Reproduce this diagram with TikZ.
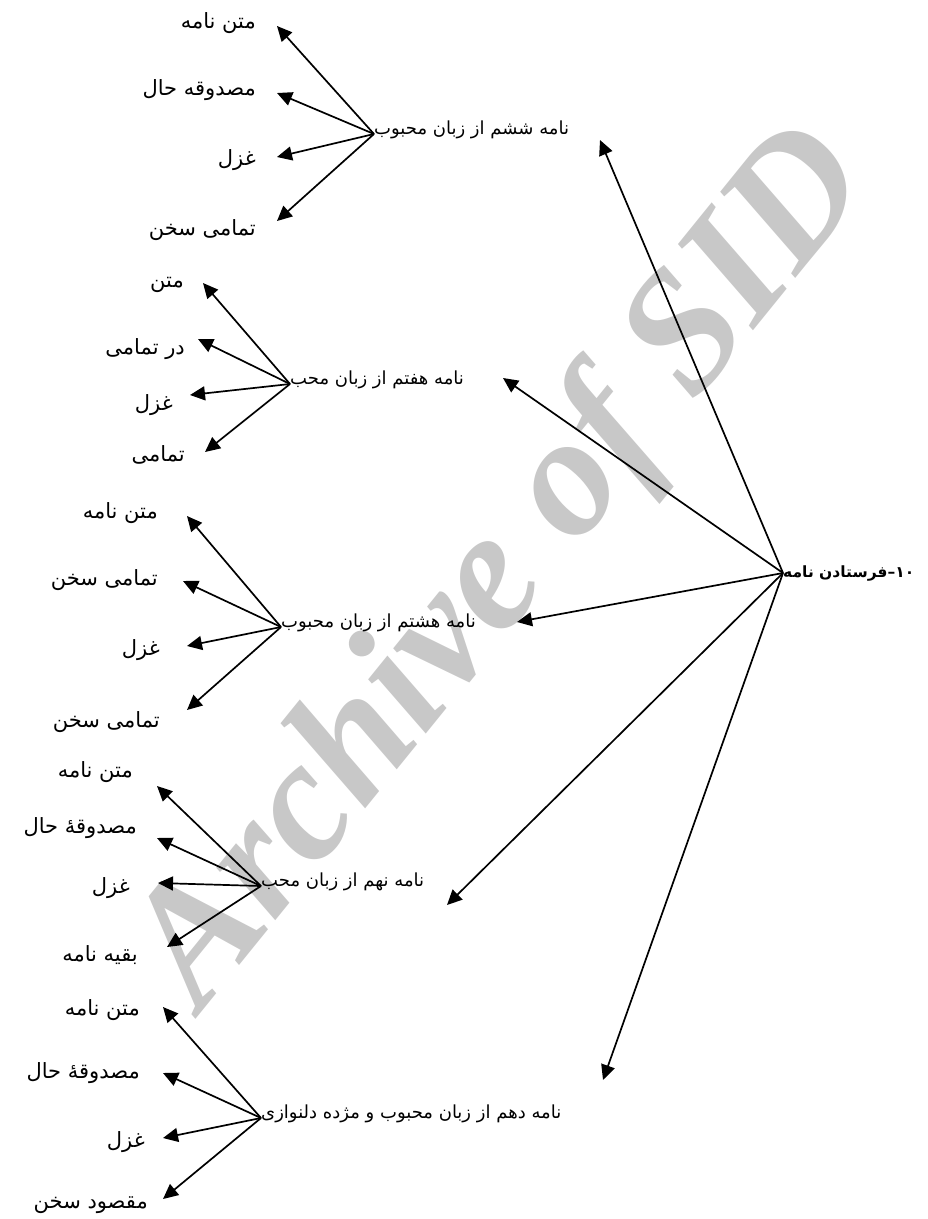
\documentclass[tikz,border=0pt]{standalone}
\usepackage{fontspec}
\usetikzlibrary{arrows.meta,calc}
\TeXXeTstate=1
\newfontfamily\arabicfont[Script=Arabic]{DejaVu Sans}
\newfontfamily\wmfont{Liberation Serif}
\definecolor{wm}{RGB}{200,200,200}
\newcommand{\rtltext}[1]{\beginR #1\endR}
\begin{document}
\begin{tikzpicture}[x=1pt,y=-1pt,
  arr/.style={line width=1.7pt,-{Triangle[length=15pt,width=14pt]}},
  leaf/.style={inner sep=0pt,font=\fontsize{21}{24}\arabicfont,anchor=east},
  mid/.style={inner sep=0pt,font=\fontsize{18}{20}\arabicfont,anchor=base west},
  rootn/.style={inner sep=0pt,font=\fontsize{15.5}{18}\arabicfont\bfseries,anchor=west}]
\useasboundingbox (0,0) rectangle (927,1219);
% watermark
\node[text=wm,font=\fontsize{172}{172}\wmfont\bfseries\itshape,rotate=51] (wmk) at (505,570) {Archive of SID};
% root
\node[rootn] (root) at (783,573) {\rtltext{۱۰–فرستادن نامه}};
% level 2
\node[mid] (m6) at (374,134) {\rtltext{نامه ششم از زبان محبوب}};
\node[mid] (m7) at (290,384) {\rtltext{نامه هفتم از زبان محب}};
\node[mid] (m8) at (281,627) {\rtltext{نامه هشتم از زبان محبوب}};
\node[mid] (m9) at (261,886) {\rtltext{نامه نهم از زبان محب}};
\node[mid] (m10) at (261,1118) {\rtltext{نامه دهم از زبان محبوب و مژده دلنوازی}};
\coordinate (t6) at (600,140);
\coordinate (t7) at (503,378);
\coordinate (t8) at (517,622);
\coordinate (t9) at (447,905);
\coordinate (t10) at (603,1080);
\foreach \t in {t6,t7,t8,t9,t10} \draw[arr] (root.west) -- (\t);
% group 6
\node[leaf] (a1) at (256,23) {\rtltext{متن نامه}};
\node[leaf] (a2) at (256,90) {\rtltext{مصدوقه حال}};
\node[leaf] (a3) at (256,160) {\rtltext{غزل}};
\node[leaf] (a4) at (256,230) {\rtltext{تمامی سخن}};
\draw[arr] (m6.base west) -- ($(a1.east)+(21,3)$);
\draw[arr] (m6.base west) -- ($(a2.east)+(21,3)$);
\draw[arr] (m6.base west) -- ($(a3.east)+(21,-3)$);
\draw[arr] (m6.base west) -- ($(a4.east)+(21,-9)$);
% group 7
\node[leaf] (b1) at (184,285) {\rtltext{متن}};
\node[leaf] (b2) at (185,349) {\rtltext{در تمامی}};
\node[leaf] (b3) at (173,405) {\rtltext{غزل}};
\node[leaf] (b4) at (185,455) {\rtltext{تمامی}};
\draw[arr] (m7.base west) -- ($(b1.east)+(19,-2)$);
\draw[arr] (m7.base west) -- ($(b2.east)+(13,-10)$);
\draw[arr] (m7.base west) -- ($(b3.east)+(17,-10)$);
\draw[arr] (m7.base west) -- ($(b4.east)+(20,-3)$);
% group 8
\node[leaf] (c1) at (158,513) {\rtltext{متن نامه}};
\node[leaf] (c2) at (158,580) {\rtltext{تمامی سخن}};
\node[leaf] (c3) at (160,650) {\rtltext{غزل}};
\node[leaf] (c4) at (160,722) {\rtltext{تمامی سخن}};
\draw[arr] (m8.base west) -- ($(c1.east)+(29,3)$);
\draw[arr] (m8.base west) -- ($(c2.east)+(25,1)$);
\draw[arr] (m8.base west) -- ($(c3.east)+(27,-4)$);
\draw[arr] (m8.base west) -- ($(c4.east)+(27,-12)$);
% group 9
\node[leaf] (d1) at (133,772) {\rtltext{متن نامه}};
\node[leaf] (d2) at (137,828) {\rtltext{مصدوقهٔ حال}};
\node[leaf] (d3) at (130,888) {\rtltext{غزل}};
\node[leaf] (d4) at (138,955) {\rtltext{بقیه نامه}};
\draw[arr] (m9.base west) -- ($(d1.east)+(24,14)$);
\draw[arr] (m9.base west) -- ($(d2.east)+(20,10)$);
\draw[arr] (m9.base west) -- ($(d3.east)+(28,-5)$);
\draw[arr] (m9.base west) -- ($(d4.east)+(29,-8)$);
% group 10
\node[leaf] (e1) at (140,1010) {\rtltext{متن نامه}};
\node[leaf] (e2) at (140,1073) {\rtltext{مصدوقهٔ حال}};
\node[leaf] (e3) at (145,1142) {\rtltext{غزل}};
\node[leaf] (e4) at (148,1205) {\rtltext{مقصود سخن}};
\draw[arr] (m10.base west) -- ($(e1.east)+(23,-3)$);
\draw[arr] (m10.base west) -- ($(e2.east)+(23,0)$);
\draw[arr] (m10.base west) -- ($(e3.east)+(18,-4)$);
\draw[arr] (m10.base west) -- ($(e4.east)+(15,-6)$);
\end{tikzpicture}
\end{document}
